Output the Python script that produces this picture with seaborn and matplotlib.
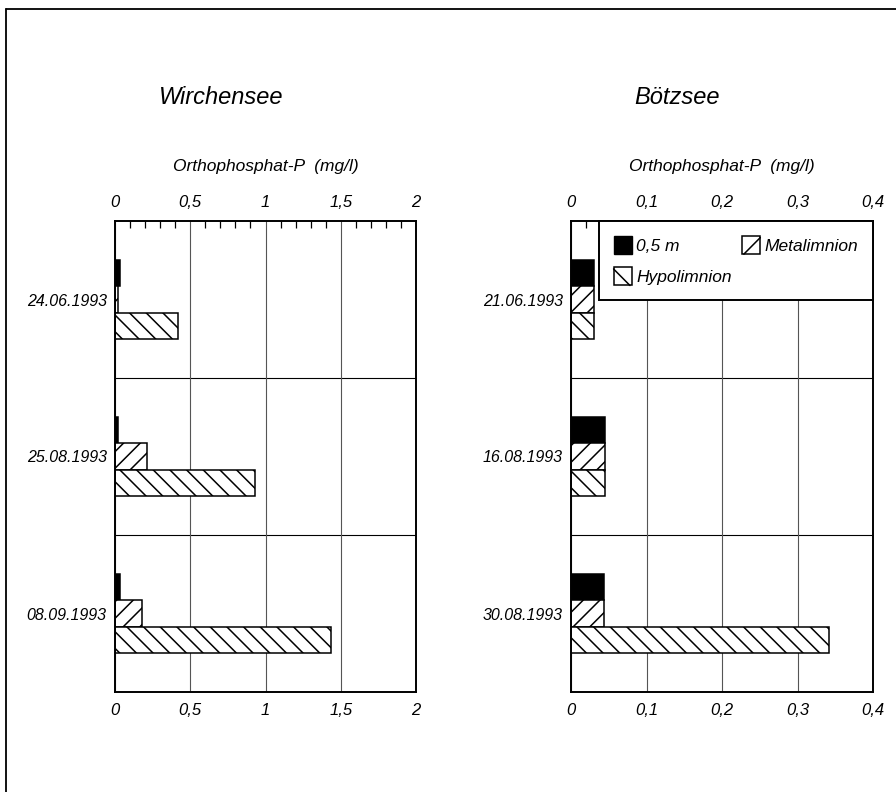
import numpy as np
import pandas as pd
import matplotlib
matplotlib.use("Agg")
import matplotlib.pyplot as plt
from matplotlib.patches import Patch, Rectangle
from matplotlib.lines import Line2D
from matplotlib.legend_handler import HandlerBase
from matplotlib.ticker import MultipleLocator, FuncFormatter
import seaborn as sns

# ---------------- data ----------------
series = ["0,5 m", "Metalimnion", "Hypolimnion"]

wirch_dates = ["24.06.1993", "25.08.1993", "08.09.1993"]
wirch_05m = [0.03, 0.02, 0.03]
wirch_meta = [0.02, 0.21, 0.18]
wirch_hypo = [0.42, 0.93, 1.435]

boetz_dates = ["21.06.1993", "16.08.1993", "30.08.1993"]
boetz_05m = [0.03, 0.045, 0.044]
boetz_meta = [0.03, 0.045, 0.044]
boetz_hypo = [0.03, 0.045, 0.342]

titles = ["Wirchensee", "Bötzsee"]
xlabel = "Orthophosphat-P  (mg/l)"


def long_df(dates, a, b, c):
    rows = []
    for d, v1, v2, v3 in zip(dates, a, b, c):
        rows.append((d, series[0], v1))
        rows.append((d, series[1], v2))
        rows.append((d, series[2], v3))
    return pd.DataFrame(rows, columns=["Datum", "Serie", "Wert"])


df_w = long_df(wirch_dates, wirch_05m, wirch_meta, wirch_hypo)
df_b = long_df(boetz_dates, boetz_05m, boetz_meta, boetz_hypo)

# ---------------- style ----------------
sns.set_style("white")
plt.rcParams["font.family"] = ["Liberation Sans", "DejaVu Sans"]
plt.rcParams["font.style"] = "italic"
plt.rcParams["hatch.linewidth"] = 1.1
for k in ["text.color", "axes.labelcolor", "xtick.color", "ytick.color"]:
    plt.rcParams[k] = "black"

faces = ["black", "white", "white"]
hatches = ["", "//", "\\\\"]

fig = plt.figure(figsize=(8.96, 7.92), dpi=100)
W, H = 896.0, 792.0

# outer frame (top and left edges visible)
fig.add_artist(Line2D([6 / W, 6 / W], [0, 1 - 9 / H], color="black", lw=1.3,
                      transform=fig.transFigure))
fig.add_artist(Line2D([6 / W, 1], [1 - 9 / H, 1 - 9 / H], color="black", lw=1.3,
                      transform=fig.transFigure))

axes_specs = [
    (df_w, (115, 416), 2.0, 0.5, 0.1, 221, 692),
    (df_b, (571, 873), 0.4, 0.1, 0.02, 221, 692),
]


def comma_fmt(v, pos):
    if abs(v) < 1e-9:
        return "0"
    return ("%g" % round(v, 3)).replace(".", ",")


axs = []
for i, (df, (x0, x1), xmax, major, minor, ytop, ybot) in enumerate(axes_specs):
    ax = fig.add_axes([x0 / W, 1 - ybot / H, (x1 - x0) / W, (ybot - ytop) / H])
    sns.barplot(data=df, y="Datum", x="Wert", hue="Serie",
                hue_order=series, orient="h", width=0.5, ax=ax,
                edgecolor="black", linewidth=1.1, legend=False)
    for cont, fc, h in zip(ax.containers, faces, hatches):
        for bar in cont:
            bar.set_facecolor(fc)
            bar.set_hatch(h)
            bar.set_edgecolor("black")
    ax.set_xlim(0, xmax)
    ax.set_ylim(2.5, -0.5)
    ax.set_axisbelow(True)
    ax.xaxis.set_major_locator(MultipleLocator(major))
    ax.xaxis.set_minor_locator(MultipleLocator(minor))
    ax.xaxis.set_major_formatter(FuncFormatter(comma_fmt))
    ax.grid(axis="x", which="major", color="#555555", lw=0.8)
    ax.grid(axis="y", visible=False)
    for yv in (0.5, 1.5):
        ax.axhline(yv, color="black", lw=0.8, zorder=0.5)
    ax.tick_params(axis="x", which="major", top=True, bottom=True,
                   labeltop=True, labelbottom=True, length=0, labelsize=12,
                   pad=8)
    ax.tick_params(axis="x", which="minor", top=True, bottom=False,
                   direction="in", length=5, width=0.9, color="black")
    ax.tick_params(axis="y", length=0, labelsize=11.5, pad=6)
    for lab in ax.get_xticklabels() + ax.get_yticklabels():
        lab.set_fontstyle("italic")
    ax.set_ylabel("")
    ax.set_xlabel(xlabel, fontsize=12.5, fontstyle="italic", labelpad=17)
    ax.xaxis.set_label_position("top")
    for sp in ax.spines.values():
        sp.set_visible(True)
        sp.set_color("black")
        sp.set_linewidth(1.4)
    axs.append(ax)

# titles
fig.text(221 / W, 1 - 97 / H, titles[0], fontsize=17, fontstyle="italic",
         ha="center", va="center")
fig.text(677 / W, 1 - 97 / H, titles[1], fontsize=17, fontstyle="italic",
         ha="center", va="center")


class DiagHandler(HandlerBase):
    """Legend key: white square with one diagonal stroke."""

    def __init__(self, rising):
        super().__init__()
        self.rising = rising

    def create_artists(self, legend, orig_handle, xdescent, ydescent,
                       width, height, fontsize, trans):
        x0, y0 = -xdescent, -ydescent
        rect = Rectangle((x0, y0), width, height, facecolor="white",
                         edgecolor="black", lw=1.1, transform=trans)
        if self.rising:
            xs = [x0 + 0.1 * width, x0 + width]
            ys = [y0, y0 + 0.9 * height]
        else:
            xs = [x0, x0 + 0.9 * width]
            ys = [y0 + 0.9 * height, y0]
        line = Line2D(xs, ys, color="black", lw=1.1, transform=trans)
        return [rect, line]


# legend in right panel (order: column-major fill)
h_05 = Patch(facecolor="black", edgecolor="black", label=series[0])
h_hypo = Patch(facecolor="white", edgecolor="black", label=series[2])
h_meta = Patch(facecolor="white", edgecolor="black", label=series[1])
leg = axs[1].legend(handles=[h_05, h_hypo, h_meta], loc="upper right", ncol=2,
                    bbox_to_anchor=(1.0, 1.0), borderaxespad=0,
                    frameon=True, fancybox=False, framealpha=1,
                    edgecolor="black", fontsize=12.5,
                    handlelength=1.05, handleheight=1.25, handletextpad=0.25,
                    columnspacing=0.6, borderpad=0.85, labelspacing=0.75,
                    handler_map={h_hypo: DiagHandler(False),
                                 h_meta: DiagHandler(True)})
leg.get_frame().set_linewidth(1.4)
for t in leg.get_texts():
    t.set_fontstyle("italic")

fig.savefig("out.png", dpi=100)
